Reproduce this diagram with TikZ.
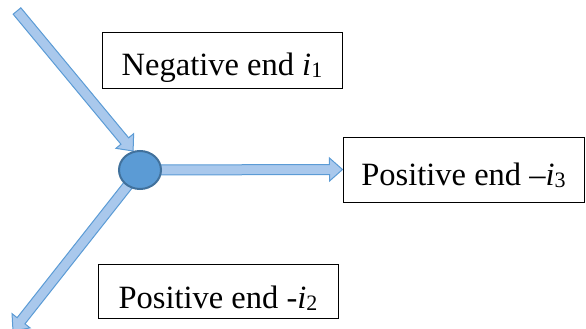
\documentclass[tikz,border=0pt]{standalone}
\usepackage{fontspec}
\setmainfont{Liberation Serif}
\usetikzlibrary{calc,backgrounds,shapes.geometric}
\definecolor{arrowline}{HTML}{5B9BD5}
\definecolor{arrowfill}{HTML}{A9C8EC}
\definecolor{nodefill}{HTML}{5B9BD5}
\definecolor{nodeline}{HTML}{41719C}
\newcommand\lowsub[1]{\raisebox{-2.5pt}{\fontsize{22}{22}\selectfont #1}}

\tikzset{
  % wide hollow arrow drawn as a polygon from start to target
  blockarrow/.style={draw=arrowline, fill=arrowfill, line width=1pt, line join=miter,
    to path={let \p1=($(\tikztotarget)-(\tikztostart)$), \n1={atan2(\y1,\x1)} in
      ($(\tikztostart)+(\n1+90:5pt)$)
      -- ($(\tikztotarget)+(\n1+180:13pt)+(\n1+90:5pt)$)
      -- ($(\tikztotarget)+(\n1+180:13pt)+(\n1+90:11.5pt)$)
      -- (\tikztotarget)
      -- ($(\tikztotarget)+(\n1+180:13pt)+(\n1-90:11.5pt)$)
      -- ($(\tikztotarget)+(\n1+180:13pt)+(\n1-90:5pt)$)
      -- ($(\tikztostart)+(\n1-90:5pt)$) -- cycle}},
  labelbox/.style={draw=black, line width=1pt, inner sep=0pt, align=center,
    font=\fontsize{32.5}{36}\selectfont},
  junction/.style={ellipse, draw=nodeline, fill=nodefill, line width=2pt,
    minimum width=42pt, minimum height=38pt, inner sep=0pt}
}

\begin{document}
\begin{tikzpicture}[x=1pt, y=-1pt]
  \useasboundingbox (0,0) rectangle (586,329);

  \node[junction] (c) at (140,170) {};

  \node[labelbox, minimum width=240pt, text height=42pt, text depth=13pt]
    (neg) at (222,60.5) {Negative end \textit{i}\lowsub{1}};
  \node[labelbox, minimum width=241pt, text height=48pt, text depth=17pt]
    (pos3) at (463.5,169.5) {Positive end --\textit{i}\lowsub{3}};
  \node[labelbox, minimum width=240pt, text height=44pt, text depth=10pt]
    (pos2) at (218,291) {Positive end -\textit{i}\lowsub{2}};

  \coordinate (inflow) at (17,11);
  \coordinate (outflow) at (13,331);

  \begin{pgfonlayer}{background}
    \draw[blockarrow] (inflow) to (c.110);
    \draw[blockarrow] (c.center) to (pos3.west);
    \draw[blockarrow] (c.center) to (outflow);
  \end{pgfonlayer}
\end{tikzpicture}
\end{document}
